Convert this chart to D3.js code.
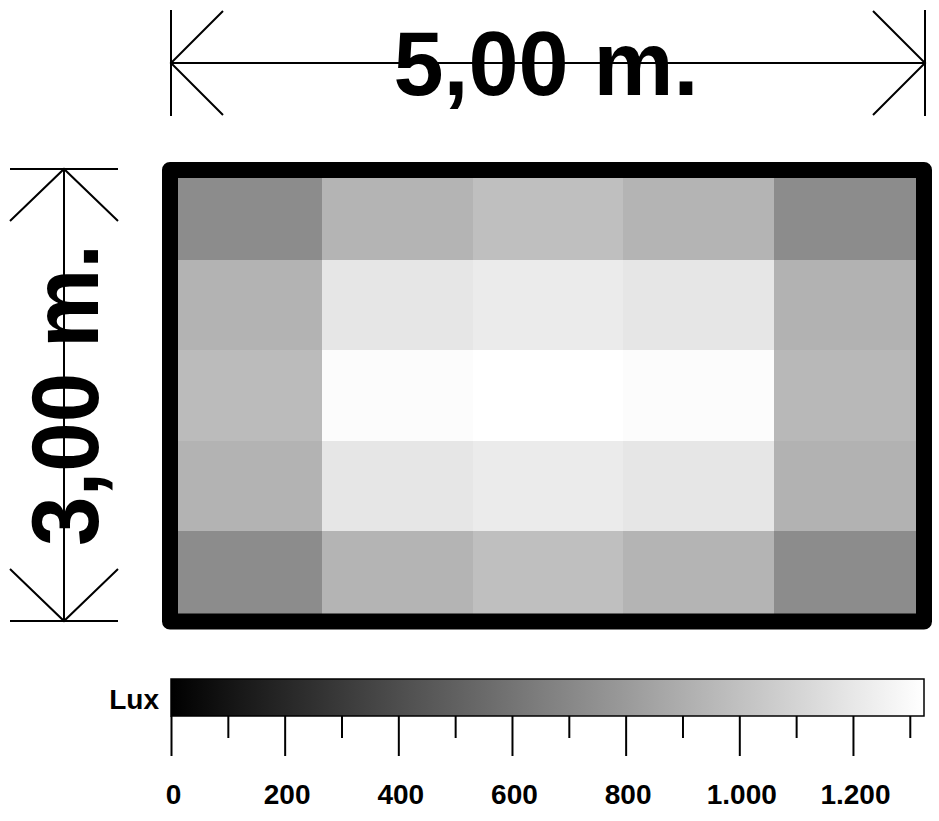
<!DOCTYPE html>
<html>
<head>
<meta charset="utf-8">
<script src="https://cdn.jsdelivr.net/npm/d3@7"></script>
<style>
  html, body { margin: 0; padding: 0; background: #fff; }
  svg { display: block; }
  text { font-family: "Liberation Sans", Arial, Helvetica, sans-serif; font-weight: bold; }
</style>
</head>
<body>
<svg id="chart" width="939" height="821"></svg>
<script>
// ---- data ----
const columns = ["c1", "c2", "c3", "c4", "c5"];
const rows = ["r1", "r2", "r3", "r4", "r5"];
const luxRow1 = [728, 935, 993, 935, 728];
const luxRow2 = [930, 1195, 1221, 1195, 925];
const luxRow3 = [972, 1309, 1325, 1309, 956];
const luxRow4 = [930, 1195, 1221, 1195, 925];
const luxRow5 = [728, 935, 993, 935, 728];
const luxRows = [luxRow1, luxRow2, luxRow3, luxRow4, luxRow5];
const roomWidth = 5;   // meters
const roomDepth = 3;   // meters
const widthLabel = "5,00 m.";
const depthLabel = "3,00 m.";
const legendTitle = "Lux";
const luxMax = 1325;
const majorTicks = [0, 200, 400, 600, 800, 1000, 1200];
const minorTicks = [100, 300, 500, 700, 900, 1100, 1300];

// ---- setup ----
const svg = d3.select("#chart");
const fmt = d3.formatLocale({decimal: ",", thousands: ".", grouping: [3], currency: ["", ""]}).format(",d");

const x = d3.scaleBand().domain(columns).range([171, 925]).padding(0);
const y = d3.scaleBand().domain(rows).range([170, 621]).padding(0);
const color = d3.scaleLinear().domain([0, luxMax]).range(["#000000", "#ffffff"]).interpolate(d3.interpolateRgb);
const xm = d3.scaleLinear().domain([0, roomWidth]).range([171, 925]);
const ym = d3.scaleLinear().domain([0, roomDepth]).range([169, 621]);
const lx = d3.scaleLinear().domain([0, luxMax]).range([171, 924]);

// ---- heatmap cells ----
const cells = [];
luxRows.forEach((vals, ri) => vals.forEach((v, ci) => cells.push({r: rows[ri], c: columns[ci], v})));
svg.append("g").selectAll("rect").data(cells).join("rect")
  .attr("x", d => x(d.c)).attr("y", d => y(d.r))
  .attr("width", x.bandwidth()).attr("height", y.bandwidth())
  .attr("fill", d => color(d.v)).attr("shape-rendering", "crispEdges");

// border
svg.append("rect")
  .attr("x", x.range()[0] - 1).attr("y", y.range()[0])
  .attr("width", x.range()[1] - x.range()[0]).attr("height", y.range()[1] - y.range()[0] + 0.5)
  .attr("fill", "none").attr("stroke", "#000").attr("stroke-width", 16)
  .attr("stroke-linejoin", "round");

// ---- dimension arrows ----
const arrowG = svg.append("g").attr("stroke", "#000").attr("stroke-width", 2).attr("fill", "none");
const hy = 63, ah = 52, endHalf = 53;
const x0 = xm(0), x1 = xm(roomWidth);
arrowG.append("line").attr("x1", x0).attr("x2", x1).attr("y1", hy).attr("y2", hy);
[x0, x1].forEach(xx => arrowG.append("line").attr("x1", xx).attr("x2", xx).attr("y1", hy - endHalf).attr("y2", hy + endHalf));
arrowG.append("path").attr("d", `M${x0 + ah},${hy - ah}L${x0},${hy}L${x0 + ah},${hy + ah}`);
arrowG.append("path").attr("d", `M${x1 - ah},${hy - ah}L${x1},${hy}L${x1 - ah},${hy + ah}`);

const vx = 64;
const y0 = ym(0), y1 = ym(roomDepth);
arrowG.append("line").attr("x1", vx).attr("x2", vx).attr("y1", y0).attr("y2", y1);
[y0, y1].forEach(yy => arrowG.append("line").attr("x1", vx - 54).attr("x2", vx + 54).attr("y1", yy).attr("y2", yy));
arrowG.append("path").attr("d", `M${vx - 54},${y0 + ah}L${vx},${y0}L${vx + 54},${y0 + ah}`);
arrowG.append("path").attr("d", `M${vx - 54},${y1 - ah}L${vx},${y1}L${vx + 54},${y1 - ah}`);

// dimension labels
svg.append("text").attr("x", (x0 + x1) / 2 - 2).attr("y", hy + 32)
  .attr("text-anchor", "middle").attr("font-size", 90).text(widthLabel);
svg.append("text")
  .attr("transform", `translate(${vx + 34},${(y0 + y1) / 2}) rotate(-90) scale(1,1.07)`)
  .attr("text-anchor", "middle").attr("font-size", 89).text(depthLabel);

// ---- colour legend ----
const defs = svg.append("defs");
const grad = defs.append("linearGradient").attr("id", "luxGrad").attr("x1", "0%").attr("x2", "100%").attr("y1", "0%").attr("y2", "0%");
d3.range(0, 1.0001, 0.1).forEach(t => grad.append("stop").attr("offset", (t * 100) + "%").attr("stop-color", color(t * luxMax)));

const barTop = 679, barBottom = 716;
svg.append("rect").attr("x", lx(0)).attr("y", barTop)
  .attr("width", lx(luxMax) - lx(0)).attr("height", barBottom - barTop)
  .attr("fill", "url(#luxGrad)").attr("stroke", "#000").attr("stroke-width", 1.5);

svg.append("text").attr("x", 159).attr("y", 709).attr("text-anchor", "end")
  .attr("font-size", 28).text(legendTitle);

const majorAxis = d3.axisBottom(lx).tickValues(majorTicks).tickSize(40).tickPadding(28).tickFormat(fmt);
const gMaj = svg.append("g").attr("transform", `translate(0,${barBottom})`).call(majorAxis);
gMaj.select(".domain").remove();
gMaj.selectAll(".tick line").attr("stroke", "#000").attr("stroke-width", 2);
gMaj.selectAll(".tick text").attr("font-size", 28).attr("font-family", "Liberation Sans, Arial, sans-serif")
  .attr("font-weight", "bold").attr("fill", "#000").attr("dx", 2);

const minorAxis = d3.axisBottom(lx).tickValues(minorTicks).tickSize(22).tickFormat("");
const gMin = svg.append("g").attr("transform", `translate(0,${barBottom})`).call(minorAxis);
gMin.select(".domain").remove();
gMin.selectAll(".tick line").attr("stroke", "#000").attr("stroke-width", 2);
</script>
</body>
</html>
